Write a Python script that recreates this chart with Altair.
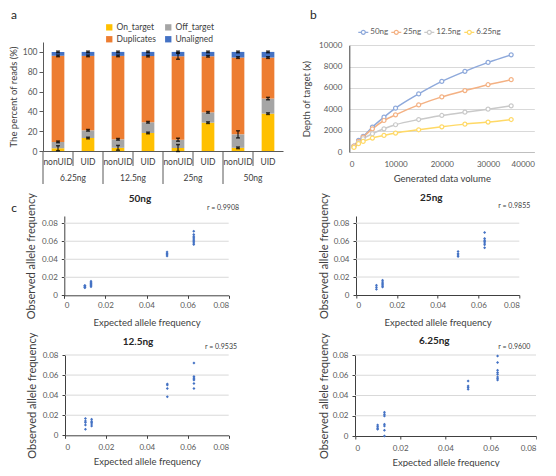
import altair as alt
import pandas as pd

FONT = "Lato"
DARK = "#404040"
MID = "#595959"
GRID = "#D9D9D9"

# ---------------- panel a : stacked read composition ----------------
groups = ["6.25ng", "12.5ng", "25ng", "50ng"]
libs = ["nonUID", "UID"]
components = ["On_target", "Off_target", "Duplicates", "Unaligned"]
comp_colors = ["#FFC000", "#A5A5A5", "#ED7D31", "#4472C4"]
on_target = [2.8, 13.1, 3.2, 18.2, 3.0, 28.6, 3.2, 37.7]
off_target = [6.4, 7.8, 8.6, 10.8, 8.4, 10.4, 13.6, 15.2]
duplicates = [86.8, 75.1, 84.2, 66.8, 84.2, 56.6, 77.5, 41.4]
unaligned = [4.0, 4.0, 4.0, 4.2, 4.4, 4.4, 5.7, 5.7]
err_on = [2.5, 0.8, 2.4, 0.8, 3.5, 0.8, 0.8, 0.8]
err_off = [0.8, 0.8, 0.8, 0.8, 1.5, 0.8, 3.6, 1.2]
err_dup = [0.8, 0.8, 0.8, 0.8, 3.0, 0.8, 0.8, 0.8]
err_una = [0.8, 0.8, 0.8, 0.8, 0.8, 0.8, 0.8, 0.8]

# ---------------- panel b : depth vs data volume ----------------
volumes = [1000, 2000, 3000, 5000, 7500, 10000, 15000, 20000, 25000, 30000, 35000]
series_names = ["50ng", "25ng", "12.5ng", "6.25ng"]
series_colors = ["#8EA9DB", "#F4B183", "#C9C9C9", "#FFD966"]
depth_50 = [560, 1090, 1460, 2330, 3260, 4100, 5440, 6610, 7550, 8390, 9100]
depth_25 = [560, 990, 1400, 2170, 2950, 3480, 4410, 5160, 5750, 6300, 6770]
depth_12 = [470, 870, 1240, 1710, 2170, 2550, 3040, 3420, 3730, 4010, 4320]
depth_6 = [430, 780, 990, 1300, 1550, 1770, 2080, 2360, 2610, 2800, 3040]

# ---------------- panel c : expected vs observed allele frequency ----------------
exp_50 = [0.01] * 5 + [0.013] * 6 + [0.05] * 4 + [0.063] * 9
obs_50 = [0.0085, 0.009, 0.0095, 0.0105, 0.011,
          0.0095, 0.011, 0.012, 0.013, 0.014, 0.0155,
          0.0435, 0.045, 0.0465, 0.048,
          0.0565, 0.058, 0.0595, 0.061, 0.0625, 0.064, 0.0655, 0.0675, 0.071]
exp_25 = [0.01] * 3 + [0.013] * 6 + [0.05] * 4 + [0.063] * 7
obs_25 = [0.0065, 0.0085, 0.011,
          0.009, 0.01, 0.0115, 0.013, 0.0145, 0.0165,
          0.043, 0.0445, 0.046, 0.0485,
          0.0525, 0.056, 0.058, 0.0595, 0.061, 0.063, 0.0695]
exp_12 = [0.01] * 5 + [0.013] * 5 + [0.05] * 4 + [0.063] * 7
obs_12 = [0.006, 0.0103, 0.0127, 0.0143, 0.0167,
          0.0093, 0.0113, 0.0127, 0.014, 0.016,
          0.0383, 0.0467, 0.05, 0.051,
          0.0467, 0.0517, 0.055, 0.056, 0.057, 0.0587, 0.072]
exp_6 = [0.01] * 4 + [0.013] * 7 + [0.05] * 4 + [0.063] * 8
obs_6 = [0.0066, 0.0076, 0.0092, 0.0109,
         0.0, 0.0056, 0.0099, 0.0115, 0.0198, 0.0214, 0.0234,
         0.0461, 0.0478, 0.0494, 0.0544,
         0.0554, 0.0567, 0.0583, 0.061, 0.0626, 0.0649, 0.0725, 0.079]
r_values = ["r = 0.9908", "r = 0.9855", "r = 0.9535", "r = 0.9600"]
freq_ticks = [0, 0.02, 0.04, 0.06, 0.08]

# ======================================================================
cats = [f"{g}|{l}" for g in groups for l in libs]
comp_vals = [on_target, off_target, duplicates, unaligned]
comp_errs = [err_on, err_off, err_dup, err_una]

rows, caps, bars_err = [], [], []
for i, c in enumerate(cats):
    cum = 0.0
    for k, comp in enumerate(components):
        v = comp_vals[k][i]
        rows.append({"cat": c, "component": comp, "value": v, "ord": k})
        cum += v
        e = comp_errs[k][i]
        bars_err.append({"cat": c, "lo": cum - e, "hi": cum + e})
        caps.append({"cat": c, "cap": cum - e})
        caps.append({"cat": c, "cap": cum + e})
df_a = pd.DataFrame(rows)
df_err = pd.DataFrame(bars_err)
df_caps = pd.DataFrame(caps)
df_sep = pd.DataFrame({"cat": cats,
                       "group": [c.split("|")[0] for c in cats],
                       "lib": [c.split("|")[1] for c in cats]})

W_A, H_A = 240, 109
YT_A = "The percent of reads (%)"

xa = alt.X("cat:N", sort=cats,
           scale=alt.Scale(domain=cats, paddingInner=0, paddingOuter=0),
           axis=alt.Axis(title=None, labelExpr="split(datum.value, '|')[1]",
                         labelAngle=0, ticks=False, labelFontSize=8.5,
                         labelColor=DARK, labelPadding=6, domainColor=MID,
                         labelOverlap=False))
xa_plain = alt.X("cat:N", sort=cats)
ya_axis = alt.Axis(values=[0, 20, 40, 60, 80, 100], grid=False, title=YT_A,
                   tickSize=4, tickColor=MID, domainColor=MID, labelOverlap=False,
                   labelFontSize=8.5, labelColor=MID, labelPadding=2,
                   titleFontSize=9.5, titleColor=DARK,
                   titleFontWeight="normal", titlePadding=4)

bars = alt.Chart(df_a).mark_bar(size=12.7).encode(
    x=xa,
    y=alt.Y("value:Q", stack="zero",
            scale=alt.Scale(domain=[0, 110], nice=False), axis=ya_axis),
    color=alt.Color("component:N", sort=components,
                    scale=alt.Scale(domain=components, range=comp_colors),
                    legend=alt.Legend(title=None, orient="none", legendX=62, legendY=-19,
                                      columns=2, direction="horizontal",
                                      symbolType="square", symbolSize=40,
                                      labelFontSize=8.5, labelColor=DARK,
                                      columnPadding=8, rowPadding=3,
                                      symbolStrokeWidth=0, labelOffset=3)),
    order=alt.Order("ord:Q", sort="ascending"),
)
err_rule = alt.Chart(df_err).mark_rule(color="black", strokeWidth=1).encode(
    x=xa_plain, y=alt.Y("lo:Q", axis=ya_axis), y2="hi:Q")
err_cap = alt.Chart(df_caps).mark_tick(color="black", size=4, thickness=1.5).encode(
    x=xa_plain, y=alt.Y("cap:Q", axis=ya_axis))
sep_long = alt.Chart(df_sep[df_sep.lib == "nonUID"]).mark_rule(color=MID).encode(
    x=alt.X("cat:N", sort=cats, bandPosition=0),
    y=alt.value(H_A), y2=alt.value(H_A + 33))
sep_short = alt.Chart(df_sep[df_sep.lib == "UID"]).mark_rule(color=MID).encode(
    x=alt.X("cat:N", sort=cats, bandPosition=0),
    y=alt.value(H_A), y2=alt.value(H_A + 15))
grp_text = alt.Chart(df_sep[df_sep.lib == "UID"]).mark_text(
    fontSize=8.5, color=DARK, baseline="middle").encode(
    x=alt.X("cat:N", sort=cats, bandPosition=0),
    y=alt.value(H_A + 27), text="group:N")
letter_a = alt.Chart(pd.DataFrame({"t": ["a"]})).mark_text(
    fontSize=12, color="#262626", baseline="middle").encode(
    x=alt.value(-29), y=alt.value(-27), text="t:N")
# white corner marker that fixes where the whole figure starts on the page
anchor = alt.Chart(pd.DataFrame({"t": [0]})).mark_point(
    shape="square", filled=True, size=4, color="white", opacity=1, strokeWidth=0).encode(
    x=alt.value(-33), y=alt.value(-32.7))

panel_a = alt.layer(anchor, bars, err_rule, err_cap, sep_long, sep_short, grp_text, letter_a
                    ).properties(width=W_A, height=H_A)

# ---------------- panel b ----------------
b_rows = []
for name, ys in zip(series_names, [depth_50, depth_25, depth_12, depth_6]):
    for xv, yv in zip(volumes, ys):
        b_rows.append({"series": name, "volume": xv, "depth": yv})
df_b = pd.DataFrame(b_rows)

W_B, H_B = 185, 115
xb_axis = alt.Axis(values=[0, 10000, 20000, 30000, 40000], format="d",
                   grid=False, ticks=False, domainColor="#BFBFBF", offset=-5,
                   labelFontSize=8, labelColor=MID, labelPadding=8, labelOverlap=False,
                   title="Generated data volume", titleFontSize=9.5,
                   titleColor=DARK, titleFontWeight="normal", titlePadding=5)
yb_axis = alt.Axis(values=[0, 2000, 4000, 6000, 8000, 10000], format="d",
                   grid=True, gridColor=GRID, ticks=False, domainColor=DARK,
                   labelFontSize=8, labelColor=MID, labelPadding=7.5, labelOverlap=False,
                   title="Depth of target (x)", titleFontSize=9.5,
                   titleColor=DARK, titleFontWeight="normal", titlePadding=7)
xb = alt.X("volume:Q", scale=alt.Scale(domain=[0, 40000], nice=False), axis=xb_axis)
yb = alt.Y("depth:Q", scale=alt.Scale(domain=[0, 10000], nice=False, range=[110, 3.2]),
           axis=yb_axis)
legend_path = ("M-1,0L-0.4,0M0.4,0L1,0M0.4,0A0.4,0.4,0,1,1,-0.4,0"
               "A0.4,0.4,0,1,1,0.4,0")
cb = alt.Color("series:N", sort=series_names,
               scale=alt.Scale(domain=series_names, range=series_colors),
               legend=alt.Legend(title=None, orient="none", legendX=8, legendY=-16,
                                 direction="horizontal", symbolType=legend_path,
                                 symbolSize=100, symbolStrokeWidth=1.2,
                                 labelFontSize=8, labelColor=MID, labelOffset=1,
                                 columnPadding=0))
b_line = alt.Chart(df_b).mark_line(interpolate="monotone", strokeWidth=1.5).encode(
    x=xb, y=yb, color=cb)
b_pts = alt.Chart(df_b).mark_point(filled=False, fill="white", size=16, strokeWidth=1.2,
                                   opacity=1).encode(
    x=xb, y=yb, color=alt.Color("series:N", sort=series_names,
                                scale=alt.Scale(domain=series_names, range=series_colors),
                                legend=None))
letter_b = alt.Chart(pd.DataFrame({"t": ["b"]})).mark_text(
    fontSize=12, color="#262626", baseline="middle").encode(
    x=alt.value(-36), y=alt.value(-27), text="t:N")
panel_b = alt.layer(b_line, b_pts, letter_b).properties(width=W_B, height=H_B)


# ---------------- panel c ----------------
def scatter(title, r_text, xs, ys, left, w, h, ymax, tpos, rpos,
            xlabpad, xtitpad, ytitpad, letter=None):
    df = pd.DataFrame({"expected": xs, "observed": ys})
    grid_df = pd.DataFrame({"tick": freq_ticks[1:]})
    lab = "datum.value == 0 ? '0' : format(datum.value, '.2f')"
    xscale = alt.Scale(domain=[0, 0.08], nice=False, range=[left, left + w])
    yscale = alt.Scale(domain=[0, ymax], nice=False)
    x_axis = alt.Axis(values=freq_ticks, grid=False, tickSize=3, tickColor=DARK,
                      domainColor=DARK, labelExpr=lab, labelOverlap=False,
                      labelFontSize=8, labelColor=MID, labelPadding=xlabpad,
                      title="Expected allele frequency", titleFontSize=9.5,
                      titleColor=DARK, titleFontWeight="normal", titlePadding=xtitpad)
    y_axis = alt.Axis(values=freq_ticks, grid=False, tickSize=3, offset=-left,
                      tickColor=DARK, domainColor=DARK, labelExpr=lab,
                      labelOverlap=False,
                      labelFontSize=8, labelColor=MID, labelPadding=4,
                      title="Observed allele frequency", titleFontSize=11,
                      titleColor=DARK, titleFontWeight="normal", titlePadding=ytitpad)
    grid = alt.Chart(grid_df).mark_rule(color=GRID, strokeWidth=1).encode(
        x=alt.datum(0, scale=xscale, axis=x_axis), x2=alt.datum(0.08),
        y=alt.Y("tick:Q", scale=yscale, axis=y_axis))
    pts = alt.Chart(df).mark_point(shape="diamond", filled=True, size=9,
                                   color="#4472C4", opacity=1).encode(
        x=alt.X("expected:Q", scale=xscale, axis=x_axis),
        y=alt.Y("observed:Q", scale=yscale, axis=y_axis))
    ttl = alt.Chart(pd.DataFrame({"t": [title]})).mark_text(
        fontSize=10, fontWeight="bold", color="#262626", baseline="middle").encode(
        x=alt.value(tpos[0]), y=alt.value(tpos[1]), text="t:N")
    rt = alt.Chart(pd.DataFrame({"t": [r_text]})).mark_text(
        fontSize=7, color=DARK, baseline="middle").encode(
        x=alt.value(rpos[0]), y=alt.value(rpos[1]), text="t:N")
    layers = [grid, pts, ttl, rt]
    if letter:
        layers.append(alt.Chart(pd.DataFrame({"t": [letter]})).mark_text(
            fontSize=12, color="#262626", baseline="middle").encode(
            x=alt.value(-29), y=alt.value(-8), text="t:N"))
    return alt.layer(*layers).properties(width=left + w, height=h)


c50 = scatter("50ng", r_values[0], exp_50, obs_50, 21.3, 164.4, 79.3, 0.088,
              (97, -17), (180, -8), 3, 8, 5, "c")
c25 = scatter("25ng", r_values[1], exp_25, obs_25, 6.7, 163.3, 79, 0.088,
              (82, -18), (165, -10.5), 3, 8, 4)
c12 = scatter("12.5ng", r_values[2], exp_12, obs_12, 22, 163.7, 80.3, 0.08,
              (95, -13.5), (178, -8), 5, 5, 5)
c6 = scatter("6.25ng", r_values[3], exp_6, obs_6, 5.7, 181, 81, 0.08,
             (85, -14), (165, -8), 5, 5, 3)

chart = alt.concat(panel_a, panel_b, c50, c25, c12, c6, columns=2,
                   spacing={"row": 59, "column": 66.3}, bounds="flush",
                   align="each").resolve_scale(
    color="independent").resolve_legend(color="independent").properties(
    padding=0).configure(font=FONT).configure_view(stroke=None).configure_axis(
    labelOverlap=False)

chart.save("out.html", embed_options={"renderer": "svg", "actions": False})
